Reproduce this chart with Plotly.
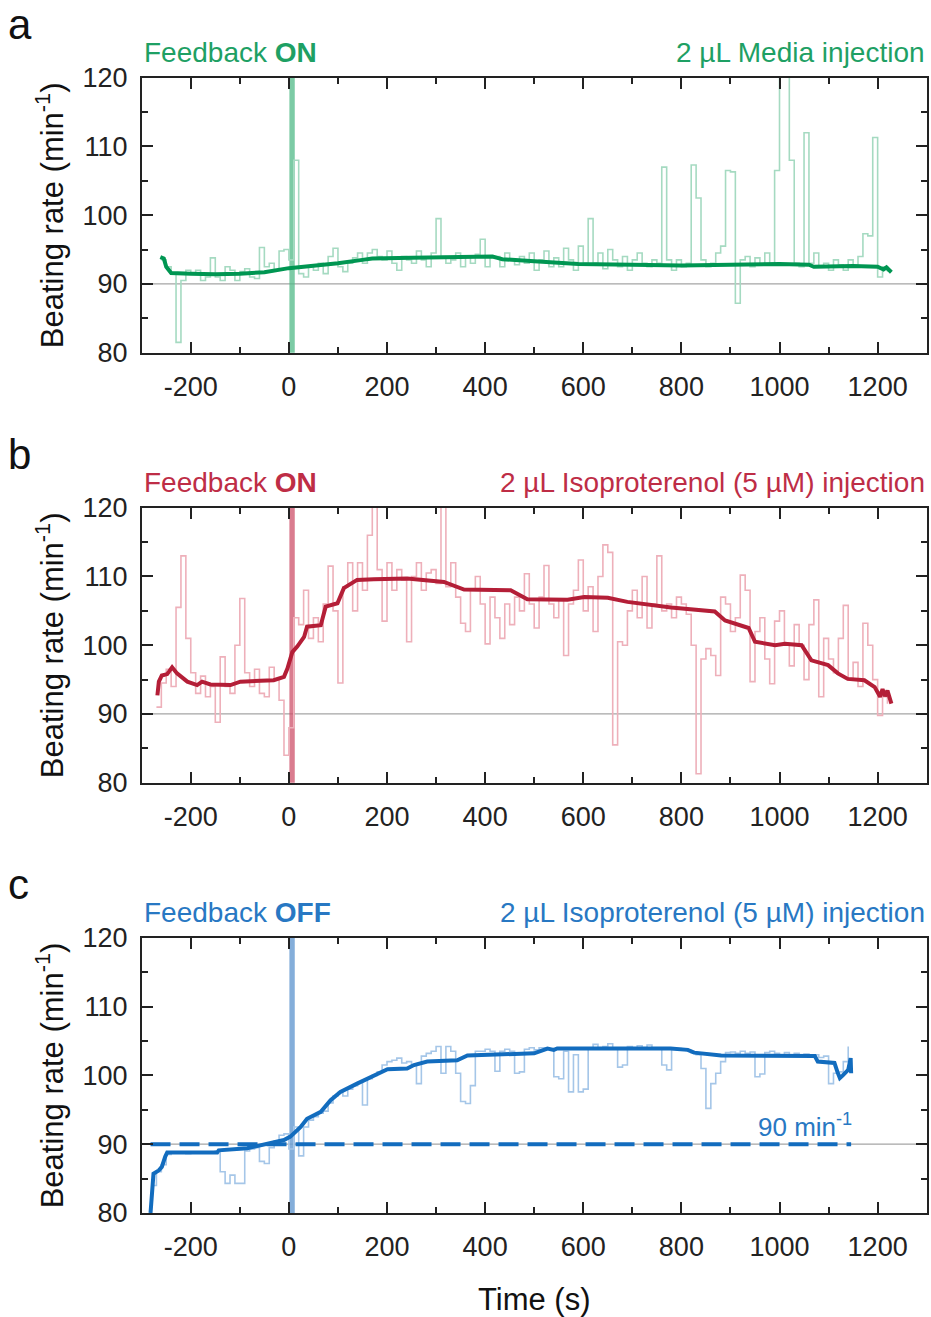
import plotly.graph_objects as go

# ---------------- data ----------------
# Panel a (media injection, feedback ON) - raw trace sampled every 10 s from -260 s
A_RAW_T0, A_RAW_DT = -260, 10
A_RAW_V = [
    93.5, 92.5, 91.5, 81.5, 90.5, 92, 91.5, 92, 90.5, 91,
    93.8, 91, 90.5, 92.5, 92, 90.5, 91.8, 92.2, 91, 90.8,
    95.3, 92.5, 93, 92, 94.8, 95, 93.5, 108, 91.5, 91,
    92.5, 92, 93, 91.5, 94, 95.2, 92.5, 91.8, 93, 93.8,
    94.5, 93, 94.5, 95, 94, 93.5, 94.8, 93, 92, 94,
    93.5, 93, 94.8, 93.5, 92.5, 94.5, 99.5, 94, 93, 93.5,
    94.5, 92.5, 94, 93, 94.3, 96.5, 92.5, 94, 94, 92.5,
    94.5, 93.5, 92.8, 94, 93, 94.5, 92, 93.5, 94.8, 92.5,
    93.8, 92.5, 95.2, 93.5, 92, 95.5, 93, 99.5, 93, 94.5,
    92.2, 95, 93.5, 92.5, 94, 92, 93.5, 94.5, 93, 92.5,
    93.5, 93, 107, 93.5, 92, 93.5, 92.5, 93, 107.3, 102.5,
    93.5, 92.5, 93, 94.5, 95.5, 106.5, 106.3, 87.2, 93.5, 94,
    92.5, 93.8, 92.8, 94.5, 93, 106.5, 121, 121, 108, 93,
    92.5, 112, 93, 94.5, 92.5, 93, 92, 93.5, 92.8, 92,
    93.5, 92.5, 94, 97.3, 97, 111.3, 91, 92.5, 91.8,
]
A_SMOOTH_T = [-262, -255, -250, -240, -200, -150, -100, -50, 0, 50, 100, 150, 170, 250, 300, 350,
              415, 425, 435, 500, 590, 700, 800, 900, 1000, 1060, 1070, 1150, 1200, 1212, 1218, 1228]
A_SMOOTH_V = [93.9, 93.7, 92.5, 91.6, 91.5, 91.4, 91.5, 91.7, 92.3, 92.6, 93.0, 93.5, 93.7, 93.8, 93.9, 93.9,
              94.0, 93.8, 93.6, 93.3, 92.9, 92.8, 92.7, 92.8, 92.9, 92.8, 92.5, 92.6, 92.5, 92.1, 92.4, 91.7]

# Panel b (isoproterenol, feedback ON) - raw sampled every 10 s from -270 s
B_RAW_T0, B_RAW_DT = -270, 10
B_RAW_V = [
    91, 94.5, 96.5, 94, 105.5, 113, 101, 96, 93, 95.5,
    92.5, 94, 88.8, 98.3, 94, 93, 100, 106.8, 96, 94,
    96.5, 93, 92.5, 96.8, 95, 92, 84, 88, 104, 103,
    108, 101, 104, 100.5, 106, 111.5, 105, 94.5, 108.5, 112,
    105, 112, 108, 116, 120.5, 111, 103.5, 112, 108, 111,
    109.5, 100.5, 110, 112, 108, 110.5, 111, 109, 125, 108.5,
    112, 107, 103.2, 102, 108, 110, 106, 100.2, 107, 104,
    101, 106, 103, 107, 105, 110.4, 106, 102.5, 107, 111.6,
    106, 104, 106.5, 98.5, 106, 108, 112.4, 105, 108.5, 102,
    110, 114.6, 113.5, 85.5, 100.5, 100, 105, 108, 104, 110,
    102.5, 106, 113, 105, 106, 104, 107, 106, 104.5, 100,
    81.3, 98, 99.5, 98.5, 95.6, 107, 106, 102, 104, 110.2,
    108, 94.7, 102, 104, 98, 94.4, 103.5, 105, 100, 97,
    103, 100, 95, 103, 106.6, 92.5, 101, 98, 96, 101,
    105.8, 95, 97.5, 94, 103.2, 100, 95, 89.8, 92.5, 91.5,
]
B_SMOOTH_T = [-268, -265, -259, -248, -238, -228, -207, -187, -177, -160, -119, -99, -31, -10, -3, 7, 17,
              31, 37, 65, 75, 99, 112, 139, 173, 241, 316, 357, 452, 486, 568, 602, 650, 690, 779, 813,
              868, 889, 937, 950, 991, 1011, 1045, 1065, 1099, 1119, 1139, 1173, 1194, 1205, 1210, 1215,
              1220, 1228]
B_SMOOTH_V = [92.7, 94.7, 95.6, 95.8, 96.8, 95.9, 94.7, 94.2, 94.7, 94.3, 94.2, 94.7, 94.9, 95.4, 96.6,
              99.0, 99.8, 101.2, 102.7, 102.9, 105.6, 106.1, 108.3, 109.5, 109.6, 109.7, 109.2, 108.1,
              108.0, 106.7, 106.6, 107.0, 106.9, 106.3, 105.5, 105.3, 104.9, 103.6, 102.5, 100.5, 100.0,
              100.2, 100.0, 97.8, 97.1, 95.9, 95.1, 94.9, 93.9, 92.5, 93.6, 92.6, 93.4, 91.5]

# Panel c (isoproterenol, feedback OFF) - raw sampled every 10 s from -280 s
C_RAW_T0, C_RAW_DT = -280, 10
C_RAW_V = [
    84, 86, 87, 88.5, 88.7, 88.7, 88.8, 88.6, 88.8, 88.8,
    88.7, 88.9, 88.8, 89.0, 86.0, 84.3, 85.5, 84.3, 84.3, 89.0,
    89.3, 89.5, 87.5, 87.2, 89.5, 90.5, 91.3, 91.5, 89.3, 92.5,
    88.3, 92.5, 93.5, 94.0, 94.5, 94.8, 96.0, 97.0, 97.5, 97.0,
    98.0, 98.5, 99.0, 95.7, 99.5, 100.0, 100.5, 101.5, 102.0, 102.2,
    102.5, 101.8, 102.0, 101.5, 98.8, 102.8, 103.2, 103.5, 104.2, 100.3,
    104.2, 103.5, 100.3, 96.2, 95.9, 98.5, 103.5, 103.5, 103.8, 103.5,
    100.6, 103.5, 103.8, 103.5, 100.3, 100.5, 103.8, 104.0, 103.7, 104.0,
    104.0, 103.8, 99.8, 99.5, 103.5, 97.6, 103.0, 97.6, 98.0, 104.0,
    104.5, 103.8, 104.2, 104.6, 104.0, 101.2, 101.5, 104.2, 104.0, 104.3,
    104.0, 104.4, 104.0, 103.8, 101.5, 100.8, 103.8, 103.9, 103.7, 103.6,
    103.3, 103.0, 101.0, 95.2, 98.8, 100.3, 102.0, 103.3, 103.4, 103.2,
    103.5, 103.2, 103.4, 99.8, 100.2, 103.3, 103.5, 103.2, 103.0, 103.3,
    103.0, 103.2, 102.9, 103.1, 102.8, 103.0, 102.6, 102.8, 98.8, 100.3,
    100.5, 102.0, 104.2,
]
C_SMOOTH_T = [-282, -280, -279, -276, -265, -259, -252, -248, -146, -143, -85, -51, -10, 3, 24, 37, 65,
              85, 105, 139, 173, 201, 241, 255, 282, 343, 364, 500, 527, 540, 547, 778, 813, 826, 881,
              1072, 1078, 1112, 1118, 1123, 1129, 1135, 1140, 1143, 1145, 1146]
C_SMOOTH_V = [80, 82, 84.3, 85.7, 86.2, 86.7, 88.2, 88.8, 88.8, 89.1, 89.4, 89.9, 90.6, 91.1, 92.5, 93.7,
              94.7, 96.4, 97.6, 98.8, 100.0, 100.9, 101.0, 101.5, 102.0, 102.2, 102.9, 103.2, 103.9,
              103.7, 103.9, 103.9, 103.7, 103.3, 102.9, 102.8, 102.0, 101.8, 100.5, 99.6, 100.0, 100.4,
              100.8, 101.8, 102.5, 100.3]
C_TARGET = 90
C_TARGET_SPAN = [-282, 1146]

INJECTION_SPAN = [1, 12]
REFERENCE_RATE = 90

PANEL_LETTERS = ["a", "b", "c"]
FEEDBACK_STATE = ["ON", "ON", "OFF"]
INJECTION_TEXT = ["2 µL Media injection",
                  "2 µL Isoproterenol (5 µM) injection",
                  "2 µL Isoproterenol (5 µM) injection"]

X_TICKS = [-200, 0, 200, 400, 600, 800, 1000, 1200]
X_MINOR = [-100, 100, 300, 500, 700, 900, 1100]
Y_TICKS = [80, 90, 100, 110, 120]
Y_MINOR = [85, 95, 105, 115]

# ---------------- styles ----------------
W, H = 931, 1317
FONT = "Liberation Sans, Arial, sans-serif"
AXC = "#222222"
DARK = ["rgb(0,150,82)", "rgb(180,30,55)", "rgb(18,108,190)"]
LIGHT = ["rgb(165,218,193)", "rgb(238,176,186)", "rgb(165,198,232)"]
BAND = ["rgba(80,185,135,0.75)", "rgba(205,80,105,0.75)", "rgba(110,160,212,0.85)"]
TEXTC = ["rgb(30,160,100)", "rgb(190,45,70)", "rgb(40,120,195)"]

# plot areas in page pixels (left, right, top, bottom)
PX_L, PX_R = 141.7, 926.7
PANEL_TB = [(77.7, 352.7), (507.7, 782.7), (937.7, 1213.0)]


def fx(px):
    return px / W


def fy(py):
    return 1 - py / H


def expand(t0, dt, vals):
    return [t0 + i * dt for i in range(len(vals))]


raw_sets = [
    (expand(A_RAW_T0, A_RAW_DT, A_RAW_V), A_RAW_V),
    (expand(B_RAW_T0, B_RAW_DT, B_RAW_V), B_RAW_V),
    (expand(C_RAW_T0, C_RAW_DT, C_RAW_V), C_RAW_V),
]
smooth_sets = [(A_SMOOTH_T, A_SMOOTH_V), (B_SMOOTH_T, B_SMOOTH_V), (C_SMOOTH_T, C_SMOOTH_V)]

fig = go.Figure()
annotations = []
shapes = []

for i in range(3):
    n = "" if i == 0 else str(i + 1)
    xa, ya = "x" + n, "y" + n
    top, bot = PANEL_TB[i]
    xdom = [fx(PX_L), fx(PX_R)]
    ydom = [fy(bot), fy(top)]

    axis_common = dict(
        ticks="inside", ticklen=11, tickwidth=1.6, tickcolor=AXC,
        showline=True, linecolor=AXC, linewidth=1.6, mirror="ticks",
        showgrid=False, zeroline=False, automargin=False,
        tickfont=dict(family=FONT, size=27, color=AXC),
    )
    fig.layout["xaxis" + n] = dict(
        domain=xdom, anchor=ya, range=[-300, 1300], tickvals=X_TICKS,
        ticktext=[str(v) for v in X_TICKS], ticklabelstandoff=9,
        minor=dict(tickvals=X_MINOR, ticks="inside", ticklen=6, tickwidth=1.6, tickcolor=AXC),
        **axis_common)
    fig.layout["yaxis" + n] = dict(
        domain=ydom, anchor=xa, range=[80, 120], tickvals=Y_TICKS,
        ticklabelstandoff=7,
        minor=dict(tickvals=Y_MINOR, ticks="inside", ticklen=6, tickwidth=1.6, tickcolor=AXC),
        **axis_common)

    # reference line at 90
    shapes.append(dict(type="line", xref=xa + " domain", yref=ya, x0=0, x1=1,
                       y0=REFERENCE_RATE, y1=REFERENCE_RATE,
                       line=dict(color="rgb(165,165,165)", width=1.2), layer="below"))
    # injection band
    shapes.append(dict(type="rect", xref=xa, yref=ya + " domain", x0=INJECTION_SPAN[0],
                       x1=INJECTION_SPAN[1], y0=0, y1=1, fillcolor=BAND[i],
                       line=dict(width=0), layer="below"))

    rt, rv = raw_sets[i]
    fig.add_trace(go.Scatter(x=rt, y=rv, mode="lines", line=dict(color=LIGHT[i], width=1.6, shape="hv"),
                             xaxis=xa, yaxis=ya, showlegend=False, hoverinfo="skip"))
    if i == 2:
        fig.add_trace(go.Scatter(x=C_TARGET_SPAN, y=[C_TARGET, C_TARGET], mode="lines",
                                 line=dict(color=DARK[i], width=4, dash="20px,9px"),
                                 xaxis=xa, yaxis=ya, showlegend=False))
    st, sv = smooth_sets[i]
    fig.add_trace(go.Scatter(x=st, y=sv, mode="lines", line=dict(color=DARK[i], width=4),
                             xaxis=xa, yaxis=ya, showlegend=False))

    # texts above panel
    annotations.append(dict(xref="paper", yref="paper", x=fx(PX_L), y=fy(top - 25),
                            xanchor="left", yanchor="middle", showarrow=False,
                            text="Feedback <b>" + FEEDBACK_STATE[i] + "</b>",
                            font=dict(family=FONT, size=28, color=TEXTC[i])))
    annotations.append(dict(xref="paper", yref="paper", x=fx(PX_R), y=fy(top - 25),
                            xanchor="right", yanchor="middle", showarrow=False,
                            text=INJECTION_TEXT[i],
                            font=dict(family=FONT, size=28, color=TEXTC[i])))
    # panel letter
    annotations.append(dict(xref="paper", yref="paper", x=fx(6), y=fy(top - 53),
                            xanchor="left", yanchor="middle", showarrow=False,
                            text=PANEL_LETTERS[i],
                            font=dict(family=FONT, size=42, color="#111")))
    # y title
    annotations.append(dict(xref="paper", yref="paper", x=fx(50), y=fy((top + bot) / 2),
                            xanchor="center", yanchor="middle", showarrow=False, textangle=-90,
                            text="Beating rate (min<sup>-1</sup>)",
                            font=dict(family=FONT, size=31, color="#111")))

# 90 min^-1 label in panel c
annotations.append(dict(xref="x3", yref="y3", x=1152, y=92.7, xanchor="right", yanchor="middle",
                        showarrow=False, text="90 min<sup>-1</sup>",
                        font=dict(family=FONT, size=26, color=TEXTC[2])))
# x title
annotations.append(dict(xref="paper", yref="paper", x=fx((PX_L + PX_R) / 2), y=fy(1299),
                        xanchor="center", yanchor="middle", showarrow=False, text="Time (s)",
                        font=dict(family=FONT, size=31, color="#111")))

fig.update_layout(width=W, height=H,
                  margin=dict(l=0, r=0, t=0, b=0, autoexpand=False),
                  paper_bgcolor="white", plot_bgcolor="white",
                  shapes=shapes, annotations=annotations, showlegend=False)

fig.write_html("out.html", config={"displayModeBar": False},
               post_script="document.body.style.margin='0';document.documentElement.style.overflow='hidden';")
